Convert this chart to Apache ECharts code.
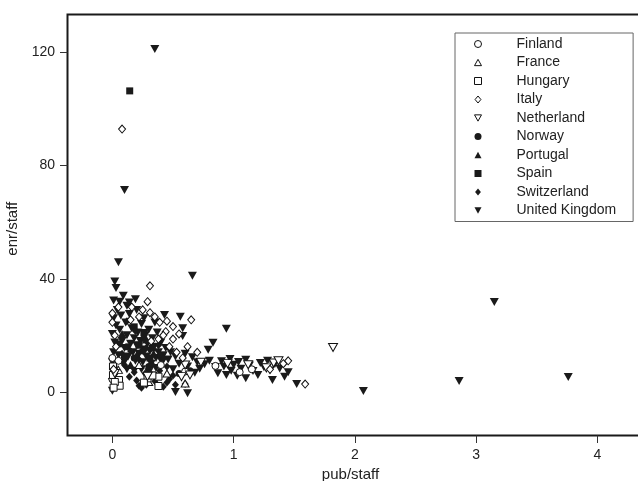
<!DOCTYPE html>
<html>
<head>
<meta charset="utf-8">
<script src="https://cdn.jsdelivr.net/npm/echarts@6/dist/echarts.min.js"></script>
<style>html,body{margin:0;padding:0;background:#fff}#c{width:638px;height:481px}</style>
</head>
<body>
<div id="c"></div>
<script>
var countries = ['Finland','France','Hungary','Italy','Netherland','Norway','Portugal','Spain','Switzerland','United Kingdom'];
var xTicks = [0,1,2,3,4];
var yTicks = [0,40,80,120];

var finland = [[0.6,7.2],[0.00,12.0],[0.01,9.0],[0.02,7.0],[0.00,4.5],[1.30,9.4],[1.15,8.0],[0.05,11.0],[0.32,6.0],[0.85,9.2],[0.40,9.5],[1.05,7.0]];
var france = [[0.30,3.5],[0.05,7.8],[0.45,6.5],[0.22,9.5],[0.60,3.0]];
var hungary = [[0.005,9],[0.005,6],[0.055,4.2],[0.06,2.2],[0.38,5.4],[0.29,4.8],[0.38,2.1],[0.26,3.3],[0.02,3.5],[0.33,5.8],[0.01,1.5]];
var italy = [[0.08,92.9],[0.31,37.5],[0.29,31.9],[0.0,27.8],[0.31,28.0],[0.65,25.5],[0.0,24.6],[0.39,24.6],[0.44,21.3],[0.50,23.1],[0.38,18.7],[0.50,18.7],[1.59,2.8],[0.02,20.0],[0.05,30.0],[0.47,16.0],[0.53,14.0],[0.42,20.0],[0.35,26.5],[0.22,26.5],[0.58,12.0],[0.62,16.0],[0.03,16.0],[0.55,20.5],[0.25,29.0],[0.15,25.5],[0.45,25.0],[0.32,18.0],[1.30,8.0],[1.41,10.0],[1.45,11.0],[0.70,14.0],[0.16,30.0],[0.01,8.0]];
var netherland = [[1.82,15.7],[0.57,5.4],[0.64,6.0],[1.33,10.2],[1.37,11.0],[1.27,8.5],[0.73,10.5],[0.95,10.0],[0.02,6.5],[0.29,5.5],[1.12,9.6],[0.60,9.5]];
var norway = [[0.25,14.5],[0.30,9.0],[0.18,12.0],[0.40,12.5],[0.55,6.5],[0.12,16.0],[0.64,7.5],[0.35,6.0]];
var portugal = [[0.20,13.0],[0.15,9.5],[0.28,18.5],[0.34,13.5],[0.08,20.5]];
var spain = [[0.143,106.4],[0.22,16.5],[0.26,21.0],[0.10,12.5],[0.31,12.0],[0.18,23.0],[0.05,17.0],[0.33,15.5]];
var switzerland = [[0.14,5.4],[0.22,2.2],[0.24,1.5],[0.28,2.5],[0.45,3.3],[0.47,4.5],[0.52,2.5],[0.60,2.8],[0.20,4.0],[0.35,3.8],[0.42,1.8],[0.18,7.0],[0.27,6.5],[0.39,7.5],[0.50,5.8],[0.10,9.5],[0.33,9.5],[0.45,9.0],[0.22,11.5],[0.15,14.5],[0.28,15.5],[0.38,16.5],[0.42,11.8],[0.08,13.5],[0.25,19.0],[0.19,21.5],[0.12,25.0]];
var unitedKingdom = [[0.35,121.2],[0.10,71.4],[0.05,45.8],[0.66,41.1],[3.15,31.8],[3.76,5.3],[2.86,3.9],[2.07,0.3],[0.02,39],[0.03,36.7],[0.01,32.3],[0.06,31.9],[0.14,31.6],[0.19,32.8],[0.43,27.2],[0.56,26.6],[0.94,22.3],[0.58,22.5],[0.58,19.8],[0.83,17.4],[0.79,14.9],
[1.52,2.8],[1.42,5.4],[1.32,4.2],[1.10,4.8],[1.03,5.7],[0.94,6.0],[0.87,6.6],[0.70,10.5],[0.76,9.8],[0.72,8.2],[0.80,11.0],[0.85,8.8],[0.90,10.8],[0.92,9.0],[0.97,11.6],[1.00,9.6],[1.04,10.6],[1.06,8.2],[1.10,11.4],[1.13,9.3],[1.16,7.4],[1.22,10.2],[1.25,8.7],[1.28,11.0],[1.30,7.6],[1.34,9.9],[1.38,8.3],[1.20,6.0],[1.45,7.0],[0.98,7.5],[0.66,12.3],[0.68,6.8],[0.62,9.0],[0.60,13.5],[0.55,10.0],[0.52,12.5],[0.50,8.0],[0.62,-0.5],[0.52,0.0],[0.0,0.4],[0.0,3.5],[0.01,5.0],
[0.00,10.5],[0.01,14.0],[0.02,17.5],[0.00,20.5],[0.03,23.5],[0.01,26.0],[0.04,29.0],[0.07,27.0],[0.06,22.0],[0.08,18.0],[0.05,13.0],[0.09,10.0],[0.10,15.5],[0.12,20.0],[0.11,24.5],[0.13,12.5],[0.15,17.0],[0.16,22.5],[0.14,27.5],[0.17,14.0],[0.18,19.0],[0.19,11.0],[0.20,16.5],[0.21,21.0],[0.22,13.5],[0.23,18.0],[0.24,24.0],[0.25,10.5],[0.26,15.0],[0.27,20.0],[0.28,12.5],[0.29,17.0],[0.30,22.0],[0.31,14.5],[0.32,10.0],[0.33,19.0],[0.34,16.0],[0.36,12.0],[0.37,21.0],[0.38,14.0],[0.40,17.5],[0.41,10.5],[0.42,13.0],[0.44,15.5],[0.46,11.5],[0.48,14.0],[0.24,8.0],[0.18,7.5],[0.12,8.0],[0.30,7.0],[0.36,8.5],[0.20,29.0],[0.26,26.0],[0.35,24.5],[0.09,34.0],[0.12,30.5]];

var seriesData = [finland, france, hungary, italy, netherland, norway, portugal, spain, switzerland, unitedKingdom];

var DOWN = 'path://M0,0L10,0L5,9Z';
var UP = 'path://M5,0L10,9L0,9Z';
var SQUARE = 'path://M0,0L10,0L10,10L0,10Z';
var DIAMOND = 'path://M5,0L10,6L5,12L0,6Z';
var styles = [
  {symbol:'circle', size:[7,7], hollow:true},
  {symbol:UP, size:[8,7], hollow:true},
  {symbol:SQUARE, size:[7,7], hollow:true},
  {symbol:DIAMOND, size:[7,8], hollow:true},
  {symbol:DOWN, size:[9,8], hollow:true},
  {symbol:'circle', size:[7,7], hollow:false},
  {symbol:UP, size:[9,8], hollow:false},
  {symbol:SQUARE, size:[7,7], hollow:false},
  {symbol:DIAMOND, size:[7,8], hollow:false},
  {symbol:DOWN, size:[9,8], hollow:false}
];
var drawZ = [6,6,6,7,6,3,3,3,3,2];

var series = countries.map(function(name, i){
  var s = styles[i];
  return {
    name: name,
    type: 'scatter',
    xAxisIndex: 0, yAxisIndex: 0,
    data: seriesData[i],
    symbol: s.symbol,
    symbolSize: s.size,
    symbolKeepAspect: false,
    z: drawZ[i],
    itemStyle: s.hollow ? {color:'#fff', borderColor:'#111', borderWidth:1, opacity:1}
                        : {color:'#1a1a1a', borderWidth:0, opacity:1},
    emphasis: {disabled:true}
  };
});

var chart = echarts.init(document.getElementById('c'), null, {renderer:'canvas'});
chart.setOption({
  animation: false,
  backgroundColor: '#fff',
  textStyle: {fontFamily: 'Liberation Sans, Arial, sans-serif'},
  grid: [
    {left: 60, top: 14.5, right: -3, bottom: 38, show: false, containLabel: false, outerBoundsMode: 'none'},
    {left: 67.5, top: 14.5, right: -3, bottom: 45.5, show: true, containLabel: false, outerBoundsMode: 'none', borderColor: '#1a1a1a', borderWidth: 2, backgroundColor:'transparent'}
  ],
  legend: {
    data: countries,
    orient: 'vertical',
    left: 455, top: 33,
    padding: [2, 17, 2, 19],
    itemWidth: 7, itemHeight: 7, itemGap: 0.5,
    symbolKeepAspect: true,
    borderColor: '#666', borderWidth: 1,
    selectedMode: false,
    textStyle: {fontSize: 14, color: '#222', lineHeight: 18, padding: [0,0,0,30], fontFamily: 'Liberation Sans, Arial, sans-serif'},
    itemStyle: {borderWidth: 1}
  },
  xAxis: [{
    gridIndex: 0,
    type: 'value', min: -0.432, max: 4.36,
    name: 'pub/staff', nameLocation: 'middle', nameGap: 18.5,
    nameTextStyle: {fontSize: 15, color: '#222'},
    splitLine: {show: false},
    axisLine: {show: false, onZero: false},
    axisTick: {show: true, length: 7.5, inside: true, customValues: xTicks, lineStyle: {color: '#333', width: 1}},
    axisLabel: {customValues: xTicks, fontSize: 14, color: '#222', margin: 5, formatter: function(v){return String(v);}}
  }, {
    gridIndex: 1, type: 'value', min: 0, max: 1, show: false
  }],
  yAxis: [{
    gridIndex: 0,
    type: 'value', min: -18.05, max: 133.4,
    name: 'enr/staff', nameLocation: 'middle', nameGap: 29.5, nameRotate: 90,
    nameTextStyle: {fontSize: 15, color: '#222'},
    splitLine: {show: false},
    axisLine: {show: false, onZero: false},
    axisTick: {show: true, length: 7.5, inside: true, customValues: yTicks, lineStyle: {color: '#333', width: 1}},
    axisLabel: {customValues: yTicks, fontSize: 14, color: '#222', margin: 5, formatter: function(v){return String(v);}}
  }, {
    gridIndex: 1, type: 'value', min: 0, max: 1, show: false
  }],
  series: series
});
</script>
</body>
</html>
